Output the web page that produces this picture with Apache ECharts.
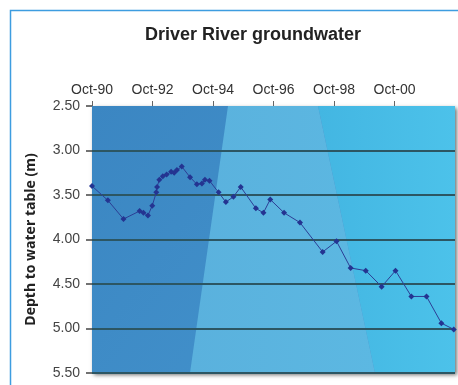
<!DOCTYPE html>
<html>
<head>
<meta charset="utf-8">
<script src="https://cdn.jsdelivr.net/npm/echarts@6/dist/echarts.min.js"></script>
<style>
  html, body { margin: 0; padding: 0; background: #fff; }
  #chart { width: 458px; height: 385px; }
</style>
</head>
<body>
<div id="chart"></div>
<script>
// Bore readings: months elapsed since October 1990, and depth to water table (m)
const monthsSinceOct1990 = [
  0, 6.3, 12.5, 18.9, 20.4, 22.2, 23.9, 25.5, 25.8, 26.7, 28.1, 29.6, 31.4, 32.6,
  33.7, 35.6, 38.9, 41.6, 43.6, 44.8, 46.6, 50.2, 53.1, 56.1, 59.0, 65.0, 68.0,
  70.7, 76.2, 82.5, 91.5, 97.0, 102.6, 108.6, 114.9, 120.4, 126.7, 132.7, 138.6, 143.5
];
const depthM = [
  3.40, 3.56, 3.77, 3.68, 3.70, 3.73, 3.62, 3.47, 3.41, 3.33, 3.29, 3.27, 3.24, 3.25,
  3.22, 3.18, 3.30, 3.38, 3.37, 3.33, 3.34, 3.47, 3.58, 3.52, 3.41, 3.65, 3.70,
  3.55, 3.70, 3.81, 4.14, 4.02, 4.32, 4.35, 4.53, 4.35, 4.64, 4.64, 4.94, 5.01
];
// Axis ticks
const xTickStep = 24;          // one labelled tick every two years
const xMax = 144;              // October 2002
const depthTicks = [2.5, 3.0, 3.5, 4.0, 4.5, 5.0, 5.5];

const W = 458, H = 385;
const G = { left: 92, top: 106, right: 3, bottom: 12 };
const gx0 = G.left, gx1 = W - G.right, gy0 = G.top, gy1 = H - G.bottom;

const points = monthsSinceOct1990.map((m, i) => [m, depthM[i]]);

const chart = echarts.init(document.getElementById('chart'), null, { renderer: 'canvas' });

chart.setOption({
  backgroundColor: '#ffffff',
  animation: false,
  title: {
    text: 'Driver River groundwater',
    left: 248, top: 21, textAlign: 'center',
    textStyle: { fontFamily: 'Liberation Sans', fontWeight: 'bold', fontSize: 18, color: '#222' }
  },
  graphic: [
    // outer frame
    { type: 'rect', z: -5, silent: true,
      shape: { x: 10.5, y: 10.5, width: 470, height: 400 },
      style: { fill: 'none', stroke: '#3d9de0', lineWidth: 1.5 } },
    // plot panel with drop shadow
    { type: 'rect', z: -4, silent: true,
      shape: { x: gx0, y: gy0, width: gx1 - gx0, height: gy1 - gy0 },
      style: {
        fill: new echarts.graphic.LinearGradient(0, 0, 1, 1, [
          { offset: 0, color: '#3b86c2' }, { offset: 1, color: '#4596cf' }
        ]),
        shadowBlur: 4, shadowOffsetX: 2, shadowOffsetY: 2, shadowColor: 'rgba(0,0,0,0.55)'
      } },
    // right-hand cyan region
    { type: 'polygon', z: -3, silent: true,
      shape: { points: [[318, gy0], [gx1, gy0], [gx1, gy1], [375, gy1]] },
      style: { fill: new echarts.graphic.LinearGradient(0, 0, 1, 0, [
        { offset: 0, color: '#43b6e2' }, { offset: 1, color: '#4cc2ea' }
      ]) } },
    // pale light wedge
    { type: 'polygon', z: -3, silent: true,
      shape: { points: [[228, gy0], [318, gy0], [375, gy1], [190, gy1]] },
      style: { fill: new echarts.graphic.LinearGradient(0, 0, 1, 0, [
        { offset: 0, color: '#5ab1dd' }, { offset: 1, color: '#5cb8e2' }
      ]) } }
  ],
  grid: { left: G.left, top: G.top, right: G.right, bottom: G.bottom, containLabel: false },
  xAxis: {
    type: 'value',
    position: 'top',
    min: 0, max: xMax, interval: xTickStep,
    axisLine: { show: false },
    axisTick: { show: true, length: 5, lineStyle: { color: '#666', width: 1 } },
    axisLabel: {
      margin: 9,
      showMaxLabel: false,
      fontFamily: 'Liberation Sans', fontSize: 14, color: '#333',
      formatter: v => 'Oct-' + String((90 + Math.round(v / 12)) % 100).padStart(2, '0')
    },
    splitLine: { show: false }
  },
  yAxis: {
    type: 'value',
    inverse: true,
    min: depthTicks[0], max: depthTicks[depthTicks.length - 1], interval: 0.5,
    name: 'Depth to water table (m)',
    nameLocation: 'middle', nameGap: 54, nameRotate: 90,
    nameTextStyle: { fontFamily: 'Open Sans', fontWeight: 'bold', fontSize: 14, color: '#222' },
    axisLine: { show: false },
    axisTick: { show: true, length: 6, lineStyle: { color: '#444', width: 1.5 } },
    axisLabel: {
      margin: 12,
      fontFamily: 'Liberation Sans', fontSize: 14, color: '#444',
      formatter: v => v.toFixed(2)
    },
    splitLine: { show: true, showMinLine: false, lineStyle: { color: '#2c5663', width: 2 } }
  },
  series: [{
    type: 'line',
    data: points,
    symbol: 'diamond',
    symbolSize: 6,
    lineStyle: { color: '#2c3e95', width: 1 },
    itemStyle: { color: '#243491' },
    z: 5
  }]
});
</script>
</body>
</html>
